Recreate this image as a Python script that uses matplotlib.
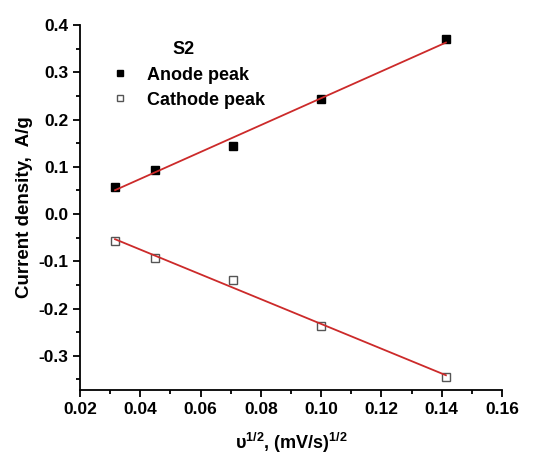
import numpy as np
import matplotlib.pyplot as plt
from matplotlib.ticker import MultipleLocator

plt.rcParams['font.family'] = ['Liberation Sans', 'DejaVu Sans']

# square root of scan rate, (mV/s)^1/2
sqrt_rate = [0.0316, 0.0447, 0.0707, 0.1000, 0.1414]
anode_peak = [0.058, 0.093, 0.145, 0.243, 0.370]
cathode_peak = [-0.058, -0.092, -0.140, -0.236, -0.344]

fig = plt.figure(figsize=(5.34, 4.57), dpi=100)
ax = fig.add_axes([0.150, 0.147, 0.790, 0.798])

ax.plot(sqrt_rate, anode_peak, 's', color='black', markersize=5.5, label='Anode peak', zorder=3)
ax.plot(sqrt_rate, cathode_peak, 's', markerfacecolor='white', markeredgecolor='#555555',
        markeredgewidth=1.0, markersize=5.5, label='Cathode peak', zorder=3)

# linear fits
x = np.array(sqrt_rate)
for ys in (anode_peak, cathode_peak):
    k, b = np.polyfit(x, ys, 1)
    ax.plot(x[[0, -1]], k * x[[0, -1]] + b, color='#cc2a2a', lw=1.3, zorder=4)

ax.set_xlim(0.02, 0.16)
ax.set_ylim(-0.372, 0.4)
ax.xaxis.set_major_locator(MultipleLocator(0.02))
ax.xaxis.set_minor_locator(MultipleLocator(0.01))
ax.yaxis.set_major_locator(MultipleLocator(0.1))
ax.yaxis.set_minor_locator(MultipleLocator(0.05))
ax.xaxis.set_major_formatter(plt.FormatStrFormatter('%.2f'))
ax.yaxis.set_major_formatter(plt.FormatStrFormatter('%.1f'))

for s in ('top', 'right'):
    ax.spines[s].set_visible(False)
for s in ('left', 'bottom'):
    ax.spines[s].set_linewidth(1.3)
ax.tick_params(which='major', direction='out', length=5, width=1.3, labelsize=12.5)
ax.tick_params(which='minor', direction='out', length=3, width=1.3)
for lab in ax.get_xticklabels() + ax.get_yticklabels():
    lab.set_fontweight('bold')

ax.set_ylabel('Current density,  A/g', fontsize=13.5, fontweight='bold', labelpad=4)
ax.set_xlabel(r'$\mathregular{\upsilon^{1/2}}$, (mV/s)$^{\mathregular{1/2}}$',
              fontsize=13, fontweight='bold', labelpad=10)

leg = ax.legend(title='S2', loc='upper left', bbox_to_anchor=(0.025, 0.985), frameon=False,
                prop={'weight': 'bold', 'size': 13}, handletextpad=0.5, markerscale=0.75,
                borderaxespad=0.2, labelspacing=0.45)
leg.get_title().set_fontweight('bold')
leg.get_title().set_fontsize(13)

fig.savefig('out.png', dpi=100)
